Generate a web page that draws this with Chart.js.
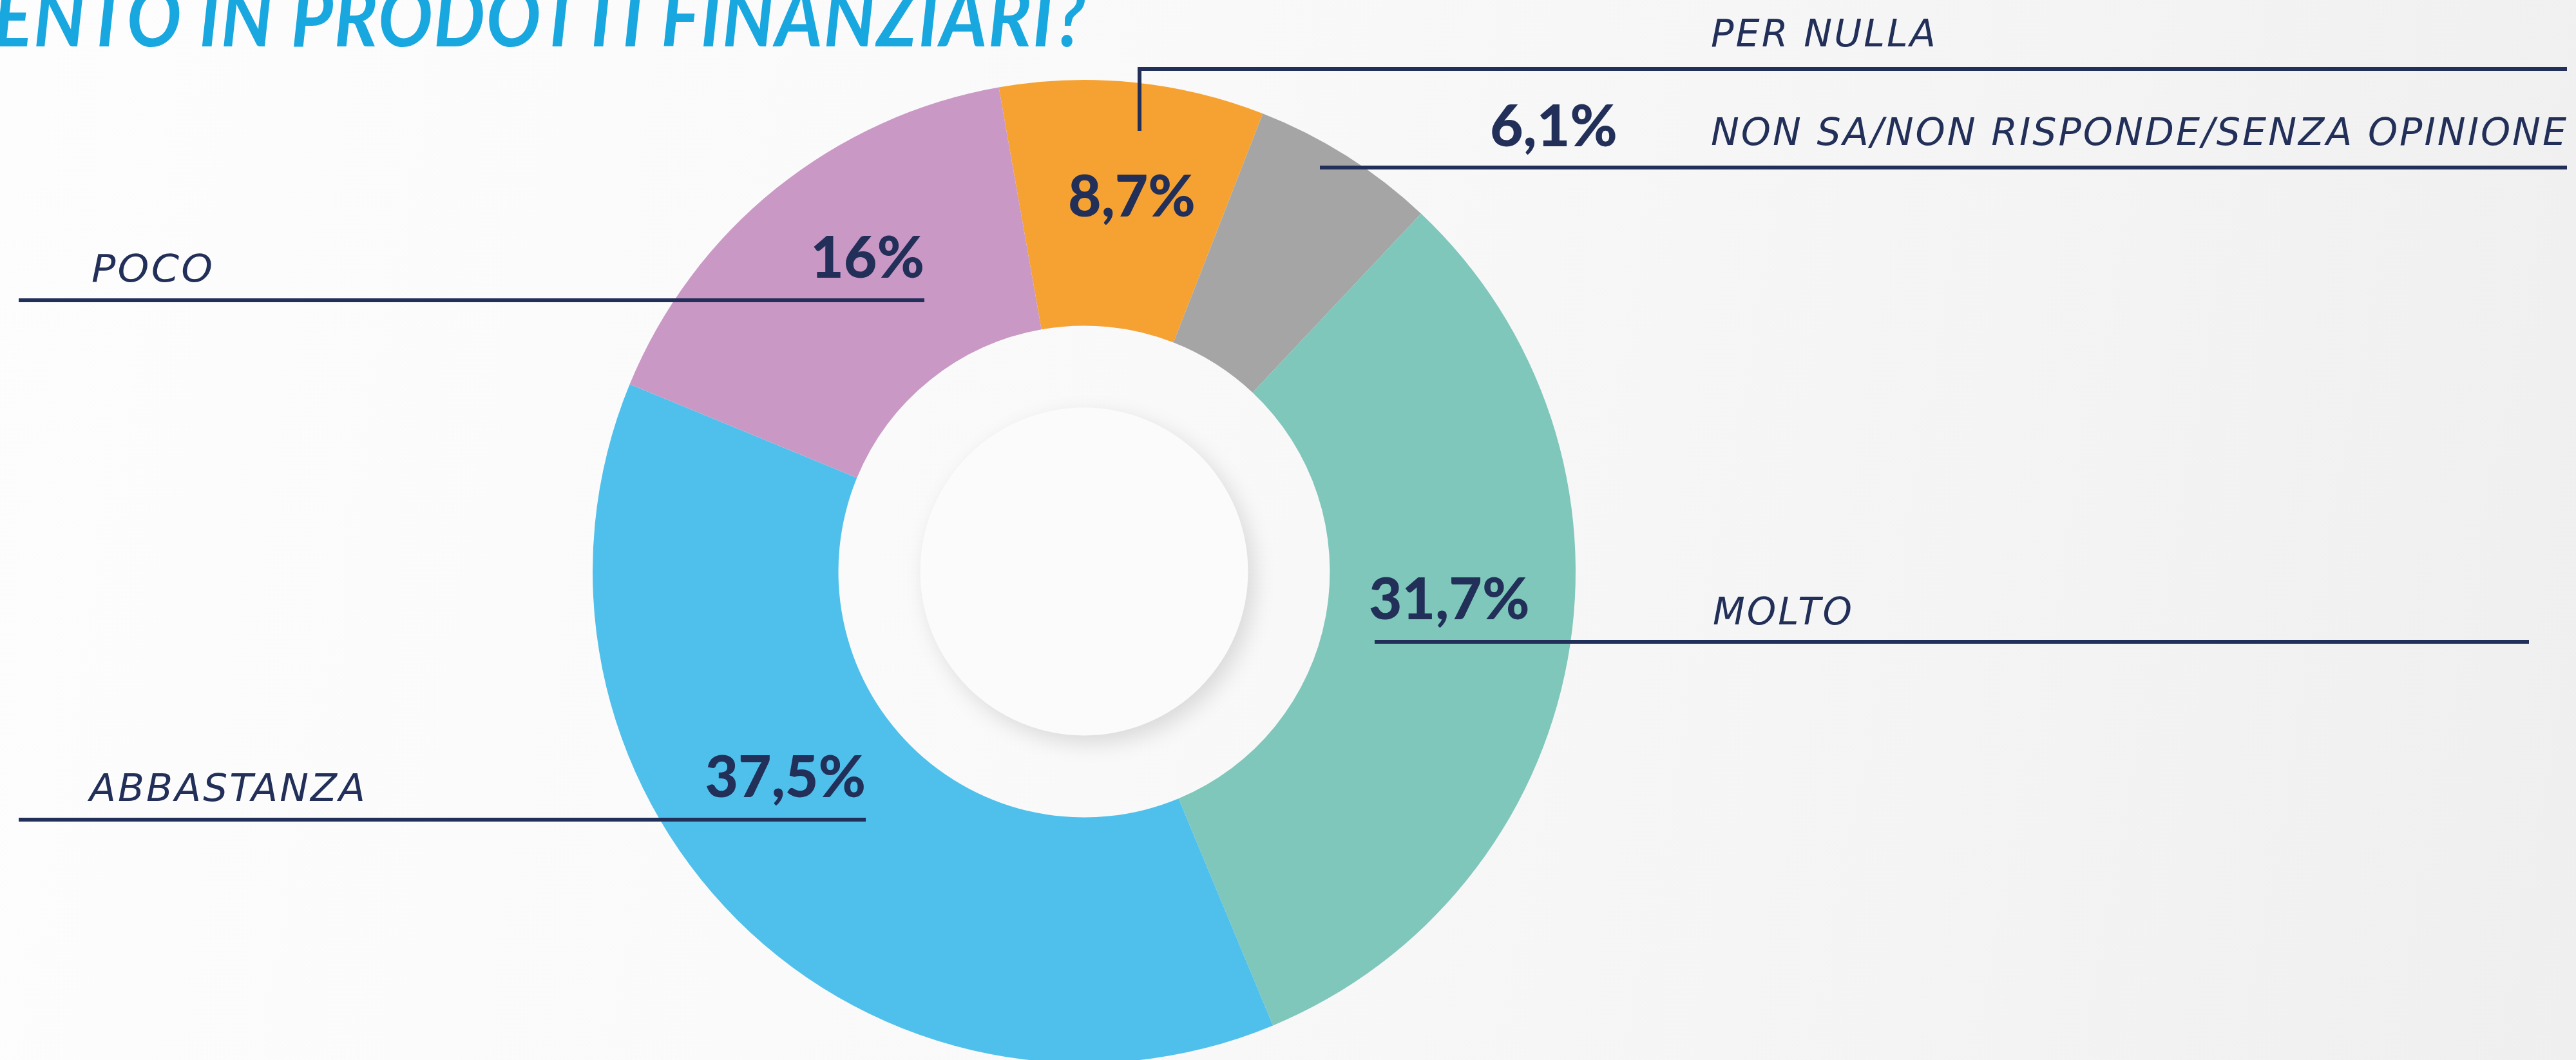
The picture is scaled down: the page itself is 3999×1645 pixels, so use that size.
<!DOCTYPE html>
<html>
<head>
<meta charset="utf-8">
<script src="https://cdn.jsdelivr.net/npm/chart.js@4/dist/chart.umd.min.js"></script>
<style>
html,body{
margin:0;
padding:0;
width:3999px;
height:1645px;
overflow:hidden;
background:linear-gradient(100deg,#fdfdfd 0%,#f9f9f9 45%,#f4f4f4 75%,#efefef 100%);
}
canvas{display:block;}
</style>
</head>
<body>

<canvas id="pieChart" width="3999" height="1700"></canvas>

<script>

/* Data */

const categories = ["PER NULLA", "NON SA/NON RISPONDE/SENZA OPINIONE", "MOLTO", "ABBASTANZA", "POCO"];
const shares = [8.7, 6.1, 31.7, 37.5, 16];
const shareLabels = ["8,7%", "6,1%", "31,7%", "37,5%", "16%"];
const sliceColours = ["#f6a233", "#a5a5a5", "#7fc7ba", "#4fc0eb", "#c998c5"];

const titleText = "ENTO IN PRODOTTI FINANZIARI?";


const NAVY = "#222f58";
const TITLE_BLUE = "#19a7e0";


/* where each label / leader line sits on the page */

const layout = [
{ name:{x:2656, y:72, w:349}, value:{x:1757, y:336, align:"center"}, line:[[1769,203],[1769,107],[3985,107]] },
{ name:{x:2656, y:225, w:1328}, value:{x:2313, y:227, align:"left"}, line:[[2049,260],[3985,260]] },
{ name:{x:2659, y:969, w:216}, value:{x:2125, y:961, align:"left"}, line:[[2134,996],[3926,996]] },
{ name:{x:139, y:1243, w:428}, value:{x:1344, y:1237, align:"right"}, line:[[29,1272],[1344,1272]] },
{ name:{x:142, y:437, w:188}, value:{x:1435, y:431, align:"right"}, line:[[29,466],[1435,466]] }
];


/* text stretched / squeezed horizontally to a given width */

function fitText(ctx, text, x, y, width, spacing){
ctx.letterSpacing = spacing + "px";
let w = ctx.measureText(text).width - spacing;
let sx = width / w;
ctx.save();
ctx.translate(x, y);
ctx.scale(sx, 1);
ctx.textAlign = "left";
ctx.fillText(text, 0, 0);
ctx.restore();
ctx.letterSpacing = "0px";
}


/* inner decorative disc */

const innerDisc = {
id: "innerDisc",
afterDatasetsDraw(chart){
const arc = chart.getDatasetMeta(0).data[0];
const ctx = chart.ctx;
ctx.save();
ctx.shadowColor = "rgba(0,0,0,0.13)";
ctx.shadowBlur = 34;
ctx.shadowOffsetX = 10;
ctx.shadowOffsetY = 12;
ctx.fillStyle = "#fbfbfb";
ctx.beginPath();
ctx.arc(arc.x, arc.y, arc.innerRadius * 0.667, 0, Math.PI * 2);
ctx.fill();
ctx.restore();
}
};


/* labels, values, leader lines, title */

const annotations = {
id: "annotations",
afterDraw(chart){

const ctx = chart.ctx;
ctx.save();
ctx.textBaseline = "alphabetic";

/* title, cut on the left and top like the original */
ctx.fillStyle = TITLE_BLUE;
ctx.font = "italic bold 126px Lato";
fitText(ctx, titleText, -10, 72, 1695, 2);

categories.forEach((name, i) => {

const l = layout[i];

/* leader line */
ctx.strokeStyle = NAVY;
ctx.lineWidth = 6;
ctx.lineCap = "butt";
ctx.lineJoin = "miter";
ctx.beginPath();
l.line.forEach((p, k) => {
if(k === 0) ctx.moveTo(p[0], p[1]);
else ctx.lineTo(p[0], p[1]);
});
ctx.stroke();

/* category */
ctx.fillStyle = NAVY;
ctx.font = "oblique 58px 'DejaVu Sans'";
fitText(ctx, name, l.name.x, l.name.y, l.name.w, 3);

/* percentage */
ctx.font = "900 89px Lato";
ctx.textAlign = l.value.align;
ctx.fillText(shareLabels[i], l.value.x, l.value.y);

});

ctx.restore();
}
};


/* Chart */

const ctx = document.getElementById("pieChart").getContext("2d");

const chart = new Chart(ctx, {
type: "doughnut",
data: {
labels: categories,
datasets: [{
data: shares,
backgroundColor: sliceColours,
borderWidth: 0,
hoverOffset: 0
}]
},
options: {
responsive: false,
animation: false,
devicePixelRatio: 1,
cutout: "50%",
rotation: -10,
layout: {
padding: { left: 920, right: 1553, top: 124, bottom: 50 }
},
plugins: {
legend: { display: false },
tooltip: { enabled: false }
}
},
plugins: [innerDisc, annotations]
});

</script>
</body>
</html>
